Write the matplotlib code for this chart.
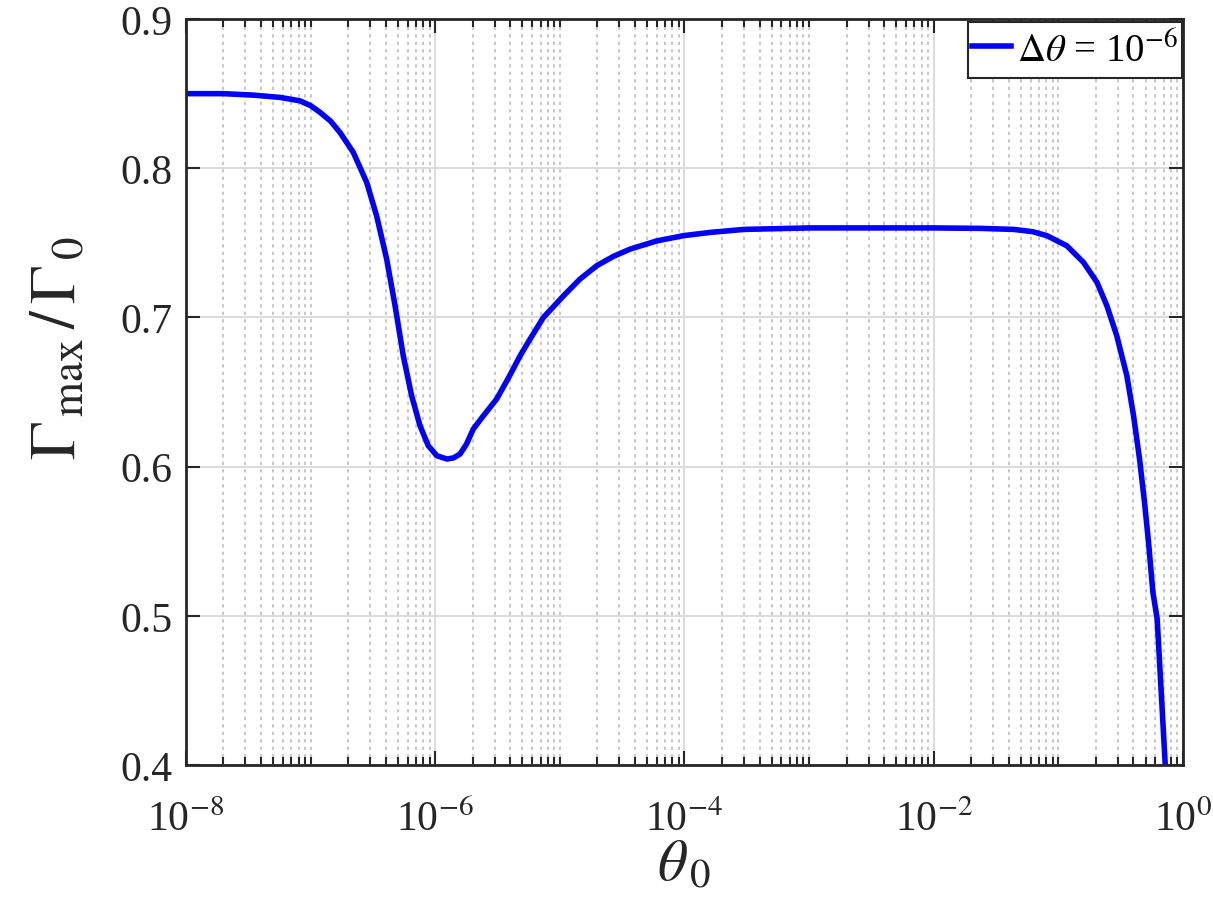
import numpy as np
import matplotlib
matplotlib.use("Agg")
import matplotlib.pyplot as plt
from matplotlib.ticker import FuncFormatter, FixedLocator

plt.rcParams['font.family'] = ['Liberation Serif', 'DejaVu Serif']
plt.rcParams['mathtext.fontset'] = 'stix'

# data
theta0 = [1e-8, 2e-8, 3.5e-8, 5.68e-8, 8.2e-8, 1e-7, 1.19e-7, 1.45e-7, 1.72e-7, 2.2e-7,
          2.82e-7, 3.39e-7, 4.08e-7, 4.76e-7, 5.55e-7, 6.47e-7, 7.55e-7, 8.8e-7,
          1.03e-6, 1.24e-6, 1.4e-6, 1.58e-6, 1.78e-6, 2.02e-6, 2.43e-6, 3.11e-6,
          3.9e-6, 4.8e-6, 5.77e-6, 7.38e-6, 1.07e-5, 1.45e-5, 1.98e-5, 2.7e-5,
          3.66e-5, 5.99e-5, 9.8e-5, 1.61e-4, 3e-4, 1e-3, 1e-2, 2.36e-2, 4.37e-2,
          6.2e-2, 8.09e-2, 0.117, 0.159, 0.204, 0.245, 0.294, 0.354, 0.401, 0.448,
          0.491, 0.529, 0.573, 0.62, 0.72]
gamma_ratio = [0.8500, 0.8500, 0.8490, 0.8475, 0.8452, 0.8420, 0.8375, 0.8315, 0.8240,
               0.8107, 0.7905, 0.7680, 0.7390, 0.7080, 0.6740, 0.6475, 0.6274, 0.6140,
               0.6073, 0.6051, 0.6058, 0.6084, 0.6150, 0.6252, 0.6340, 0.6453,
               0.6600, 0.6743, 0.6855, 0.7000, 0.7145, 0.7257, 0.7347, 0.7410,
               0.7458, 0.7513, 0.7548, 0.7570, 0.7590, 0.7600, 0.7600, 0.7597, 0.7590,
               0.7575, 0.7548, 0.7480, 0.7369, 0.7235, 0.7078, 0.6877, 0.6610, 0.6340,
               0.6050, 0.5760, 0.5490, 0.5158, 0.4980, 0.4000]
legend_label = r'$\Delta\theta$ = 10$^{-6}$'
xticks_major = [1e-8, 1e-6, 1e-4, 1e-2, 1e0]
yticks = [0.4, 0.5, 0.6, 0.7, 0.8, 0.9]

fig = plt.figure(figsize=(12.13, 9.12), dpi=100)
ax = fig.add_axes([0.1533, 0.1601, 0.9753 - 0.1533, 0.978 - 0.1601])

ax.plot(theta0, gamma_ratio, color=(0, 0, 1), lw=4, label=legend_label,
        solid_joinstyle='round')
ax.set_xscale('log')
ax.set_xlim(1e-8, 1)
ax.set_ylim(0.4, 0.9)

minor = [m * 10.0 ** e for e in range(-8, 0) for m in range(1, 10)
         if not (m == 1 and e % 2 == 0)]
ax.xaxis.set_major_locator(FixedLocator(xticks_major))
ax.xaxis.set_minor_locator(FixedLocator(minor))
ax.xaxis.set_major_formatter(FuncFormatter(
    lambda v, p: r'10$^{\mathrm{%d}}$' % int(round(np.log10(v)))))
ax.xaxis.set_minor_formatter(FuncFormatter(lambda v, p: ''))
ax.yaxis.set_major_locator(FixedLocator(yticks))
ax.yaxis.set_major_formatter(FuncFormatter(lambda v, p: '%.1f' % v))

ax.grid(True, which='major', color='#dcdcdc', lw=1.5, ls='-')
ax.grid(True, which='minor', axis='x', color='#bdbdbd', lw=1.2, ls=(0, (2, 2.5)))
ax.set_axisbelow(True)

for s in ax.spines.values():
    s.set_color('#262626')
    s.set_linewidth(2)
ax.tick_params(which='both', direction='in', top=True, right=True, colors='#262626',
               width=1.5, labelsize=30, labelcolor='#262626')
ax.tick_params(which='major', length=10)
ax.tick_params(which='minor', length=6)
ax.tick_params(axis='y', pad=10)
ax.tick_params(axis='x', pad=25)

ax.set_xlabel(r'$\theta_{\,0}$', fontsize=42, labelpad=0, color='#262626')
ax.set_ylabel(r'$\Gamma_{\,\mathrm{max}}\,/\,\Gamma_{\,0}$', fontsize=46, labelpad=22,
              color='#262626')
ax.yaxis.label.set_y(0.56)

leg = ax.legend(loc='upper right', bbox_to_anchor=(1.0, 0.9906), borderaxespad=0.08,
                fontsize=28, fancybox=False, handlelength=1.0, handletextpad=0.15,
                borderpad=0.05, framealpha=1)
frame = leg.get_frame()
frame.set_edgecolor('#262626')
frame.set_linewidth(1.5)
frame.set_boxstyle('square', pad=0.05)
frame.set_mutation_aspect(3.5)

fig.savefig('out.png', dpi=100)
